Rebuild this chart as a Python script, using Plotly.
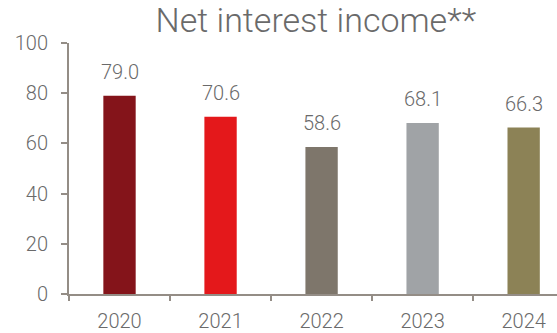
import plotly.graph_objects as go

years = ["2020", "2021", "2022", "2023", "2024"]
values = [79.0, 70.6, 58.6, 68.1, 66.3]
bar_colors = ["#84141A", "#E4181B", "#7E766B", "#A0A3A6", "#8C8256"]
y_ticks = [0, 20, 40, 60, 80, 100]

text_color = "#6A6A6A"
axis_color = "#948D86"
font_family = "Roboto"

fig = go.Figure(
    go.Bar(
        x=years,
        y=values,
        marker=dict(color=bar_colors, line=dict(width=0)),
        width=0.32,
        hoverinfo="skip",
    )
)

# value labels above each bar (x given as category index)
for i, v in enumerate(values):
    fig.add_annotation(
        x=i, y=v, xref="x", yref="y", text=f"{v:.1f}", showarrow=False,
        yanchor="bottom", yshift=10,
        font=dict(family=font_family, size=20, color=text_color, weight=300),
    )

fig.update_layout(
    width=557, height=333,
    margin=dict(l=69, r=0, t=43, b=37),
    paper_bgcolor="white", plot_bgcolor="white",
    showlegend=False,
    title=dict(
        text="Net interest income**",
        x=0.567, xanchor="center", y=0.94, yanchor="middle",
        font=dict(family=font_family, size=34, color=text_color, weight=300),
    ),
    font=dict(family=font_family, size=20, color=text_color, weight=300),
)

fig.update_xaxes(
    type="category",
    range=[-0.5, 4.33],
    showline=True, linecolor=axis_color, linewidth=2,
    ticks="outside", tickson="boundaries", ticklen=5, tickcolor=axis_color, tickwidth=2,
    ticklabelstandoff=8,
    showgrid=False,
    tickfont=dict(family=font_family, size=20, color=text_color, weight=300),
)
fig.update_yaxes(
    range=[0, 100],
    tickvals=y_ticks,
    showline=True, linecolor=axis_color, linewidth=2,
    ticks="outside", ticklen=6, tickcolor=axis_color, tickwidth=2,
    ticklabelstandoff=9,
    showgrid=False, zeroline=False,
    tickfont=dict(family=font_family, size=20, color=text_color, weight=300),
)

fig.write_html("out.html")
